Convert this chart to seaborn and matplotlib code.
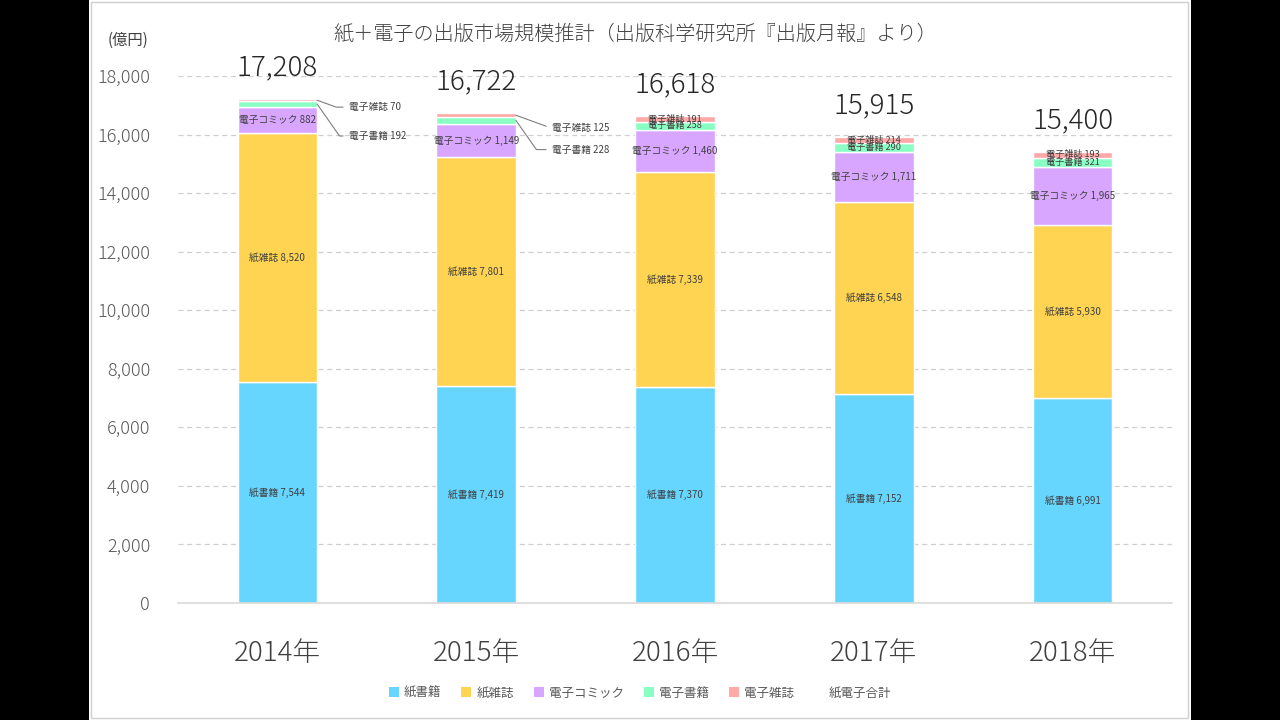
import matplotlib
matplotlib.use("Agg")
import matplotlib.pyplot as plt
import matplotlib.patches as mpatches
from matplotlib.lines import Line2D
import seaborn as sns
import pandas as pd
import numpy as np

years = ["2014年", "2015年", "2016年", "2017年", "2018年"]
series_names = ["紙書籍", "紙雑誌", "電子コミック", "電子書籍", "電子雑誌"]
paper_books = [7544, 7419, 7370, 7152, 6991]
paper_magazines = [8520, 7801, 7339, 6548, 5930]
e_comics = [882, 1149, 1460, 1711, 1965]
e_books = [192, 228, 258, 290, 321]
e_magazines = [70, 125, 191, 214, 193]
totals = [17208, 16722, 16618, 15915, 15400]
total_name = "紙電子合計"
y_ticks = [0, 2000, 4000, 6000, 8000, 10000, 12000, 14000, 16000, 18000]
title = "紙＋電子の出版市場規模推計（出版科学研究所『出版月報』より）"
unit_label = "(億円)"

colors = ["#66D6FF", "#FFD452", "#D9A6FF", "#8AFFC3", "#FFA8A8"]

sns.set_theme(style="white")
plt.rcParams["font.family"] = ["Noto Sans CJK JP", "DejaVu Sans"]
plt.rcParams["font.weight"] = 300

fig = plt.figure(figsize=(12.8, 7.2), dpi=100)
fig.patch.set_facecolor("black")
fig.patches.append(mpatches.Rectangle((89 / 1280, 0), (1102) / 1280, 1,
                                      transform=fig.transFigure, facecolor="white",
                                      edgecolor="none", zorder=-2))
fig.patches.append(mpatches.Rectangle((90.5 / 1280, 2 / 720), (1097) / 1280, 716 / 720,
                                      transform=fig.transFigure, facecolor="none",
                                      edgecolor="#D0D0D0", lw=1.0, zorder=-1))

ax = fig.add_axes([178 / 1280, 1 - 603 / 720, 994 / 1280, (603 - 76) / 720])
ax.set_facecolor("none")

data = [paper_books, paper_magazines, e_comics, e_books, e_magazines]
df = pd.DataFrame({"year": years})
bottom = np.zeros(len(years))
for name, vals, col in zip(series_names, data, colors):
    df["val"] = vals
    sns.barplot(data=df, x="year", y="val", order=years, color=col, width=0.4,
                bottom=bottom, ax=ax, saturation=1, zorder=2)
    bottom = bottom + np.array(vals)
if ax.get_legend() is not None:
    ax.get_legend().remove()

ax.set_ylim(0, 18000)
ax.set_xlim(-0.5, len(years) - 0.5)
ax.set_yticks(y_ticks)
ax.set_yticklabels([f"{v:,}" for v in y_ticks], fontsize=13, color="#595959")
ax.tick_params(axis="y", length=0, pad=20)
ax.tick_params(axis="x", length=0, pad=26, labelsize=20, labelcolor="#404040")
ax.set_xlabel("")
ax.set_ylabel("")
for s in ["top", "right", "left"]:
    ax.spines[s].set_visible(False)
ax.spines["bottom"].set_color("#D9D9D9")
ax.spines["bottom"].set_linewidth(1.2)
ax.yaxis.grid(True, linestyle=(0, (4, 3)), color="#CFCFCF", lw=0.9, zorder=0)
ax.set_axisbelow(True)

# segment labels
label_color = "#404040"
outside = {0: {3: (23, -23), 4: (23, -5)}, 1: {3: (26, -21), 4: (26, -9)}}
bottom = np.zeros(len(years))
for si, (name, vals) in enumerate(zip(series_names, data)):
    for i, v in enumerate(vals):
        yc = bottom[i] + v / 2
        txt = f"{name} {v:,}"
        if i in outside and si in outside[i]:
            dx, dy = outside[i][si]
            ax.annotate(txt, xy=(i + 0.2, yc), xytext=(dx, dy), textcoords="offset points",
                        ha="left", va="center", fontsize=7, color=label_color,
                        fontweight="normal",
                        arrowprops=dict(arrowstyle="-", color="#7F7F7F", lw=0.8,
                                        relpos=(0, 0.5), shrinkA=2, shrinkB=0,
                                        connectionstyle="angle,angleA=0,angleB=%d" %
                                        (-55 if si == 3 else -20)))
        else:
            fs = 7 if v > 400 else 6.6
            ax.text(i, yc, txt, ha="center", va="center", fontsize=fs, color=label_color,
                    fontweight="normal", zorder=3)
    bottom = bottom + np.array(vals)

# totals
for i, t in enumerate(totals):
    ax.annotate(f"{t:,}", xy=(i, t), xytext=(0, 23), textcoords="offset points",
                ha="center", va="center", fontsize=20, color="#262626", annotation_clip=False)

fig.text(635 / 1280, 1 - 34 / 720, title, ha="center", va="center", fontsize=14.5, color="#404040")
fig.text(128 / 1280, 1 - 40 / 720, unit_label, ha="center", va="center", fontsize=11,
         color="#404040", fontweight="normal")

handles = [mpatches.Patch(facecolor=c, edgecolor="none") for c in colors]
handles.append(Line2D([], [], linestyle="none"))
labels = series_names + [total_name]
fig.legend(handles, labels, loc="center", bbox_to_anchor=(640 / 1280, 1 - 693 / 720),
           ncol=6, frameon=False, prop={"size": 9, "weight": "normal"}, labelcolor="#595959",
           handlelength=0.8, handleheight=0.8, handletextpad=0.4, columnspacing=1.6)

fig.savefig("out.png", dpi=100, facecolor=fig.get_facecolor())
